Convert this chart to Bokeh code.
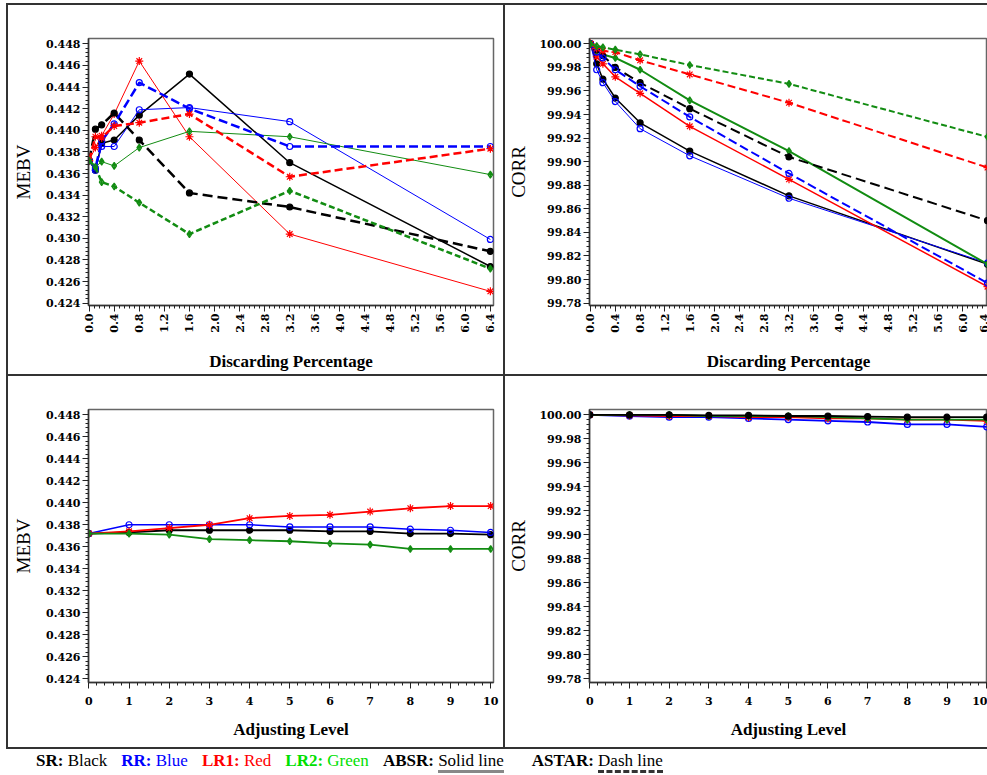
import math
from bokeh.plotting import figure
from bokeh.models import Range1d, FixedTicker, PrintfTickFormatter, Div, Spacer
from bokeh.layouts import row, column
from bokeh.embed import file_html
from bokeh.resources import INLINE

# ---------------- data ----------------
disc_pct = [0, 0.1, 0.2, 0.4, 0.8, 1.6, 3.2, 6.4]
adj_level = [0, 1, 2, 3, 4, 5, 6, 7, 8, 9, 10]

disc_ticks = [0.0, 0.4, 0.8, 1.2, 1.6, 2.0, 2.4, 2.8, 3.2, 3.6, 4.0, 4.4, 4.8, 5.2, 5.6, 6.0, 6.4]
adj_ticks = [0, 1, 2, 3, 4, 5, 6, 7, 8, 9, 10]
mebv_ticks = [0.424, 0.426, 0.428, 0.430, 0.432, 0.434, 0.436, 0.438, 0.440, 0.442, 0.444, 0.446, 0.448]
corr_ticks = [99.78, 99.80, 99.82, 99.84, 99.86, 99.88, 99.90, 99.92, 99.94, 99.96, 99.98, 100.00]

# MEBV vs Discarding Percentage
mebv_disc_sr_absr = [0.4372, 0.4363, 0.4388, 0.4391, 0.4414, 0.4452, 0.4370, 0.4274]
mebv_disc_sr_astar = [0.4372, 0.4401, 0.4405, 0.4416, 0.4391, 0.4342, 0.4329, 0.4288]
mebv_disc_rr_absr = [0.4372, 0.4363, 0.4385, 0.4385, 0.4419, 0.4421, 0.4408, 0.4299]
mebv_disc_rr_astar = [0.4372, 0.4365, 0.4390, 0.4406, 0.4444, 0.4420, 0.4385, 0.4385]
mebv_disc_lr1_absr = [0.4372, 0.4384, 0.4395, 0.4415, 0.4464, 0.4394, 0.4304, 0.4251]
mebv_disc_lr1_astar = [0.4372, 0.4394, 0.4393, 0.4404, 0.4407, 0.4415, 0.4357, 0.4383]
mebv_disc_lr2_absr = [0.4372, 0.4366, 0.4371, 0.4367, 0.4384, 0.4399, 0.4394, 0.4359]
mebv_disc_lr2_astar = [0.4372, 0.4366, 0.4352, 0.4348, 0.4333, 0.4304, 0.4344, 0.4272]

# CORR vs Discarding Percentage
corr_disc_sr_absr = [100.0, 99.983, 99.970, 99.954, 99.933, 99.909, 99.871, 99.813]
corr_disc_sr_astar = [100.0, 99.995, 99.990, 99.980, 99.967, 99.945, 99.904, 99.850]
corr_disc_rr_absr = [100.0, 99.978, 99.967, 99.951, 99.928, 99.905, 99.869, 99.814]
corr_disc_rr_astar = [100.0, 99.993, 99.988, 99.978, 99.964, 99.938, 99.890, 99.797]
corr_disc_lr1_absr = [100.0, 99.989, 99.983, 99.972, 99.958, 99.930, 99.885, 99.794]
corr_disc_lr1_astar = [100.0, 99.996, 99.994, 99.993, 99.986, 99.974, 99.950, 99.895]
corr_disc_lr2_absr = [100.0, 99.994, 99.991, 99.988, 99.978, 99.952, 99.909, 99.813]
corr_disc_lr2_astar = [100.0, 99.998, 99.997, 99.995, 99.991, 99.982, 99.966, 99.921]

# MEBV vs Adjusting Level
mebv_adj_sr = [0.4372, 0.4373, 0.4375, 0.4375, 0.4375, 0.4375, 0.4374, 0.4374, 0.4372, 0.4372, 0.4371]
mebv_adj_rr = [0.4372, 0.4380, 0.4380, 0.4380, 0.4380, 0.4378, 0.4378, 0.4378, 0.4376, 0.4375, 0.4373]
mebv_adj_lr1 = [0.4372, 0.4374, 0.4377, 0.4380, 0.4386, 0.4388, 0.4389, 0.4392, 0.4395, 0.4397, 0.4397]
mebv_adj_lr2 = [0.4372, 0.4372, 0.4371, 0.4367, 0.4366, 0.4365, 0.4363, 0.4362, 0.4358, 0.4358, 0.4358]

# CORR vs Adjusting Level
corr_adj_sr = [100.0, 100.0, 100.0, 99.9995, 99.9995, 99.999, 99.999, 99.9985, 99.998, 99.998, 99.998]
corr_adj_rr = [100.0, 99.999, 99.998, 99.998, 99.997, 99.996, 99.995, 99.994, 99.992, 99.992, 99.990]
corr_adj_lr1 = [100.0, 99.9995, 99.999, 99.999, 99.998, 99.998, 99.997, 99.997, 99.996, 99.996, 99.995]
corr_adj_lr2 = [100.0, 100.0, 100.0, 99.999, 99.999, 99.999, 99.998, 99.997, 99.996, 99.996, 99.996]

# ---------------- styles ----------------
BLACK = "#000000"
BLUE = "#0000ff"
RED = "#ff0000"
GREEN = "#128c12"

STYLE = {
    "SR": dict(color=BLACK, marker="circle", fill=BLACK, size=6),
    "RR": dict(color=BLUE, marker="circle", fill=None, size=6),
    "LR1": dict(color=RED, marker="asterisk", fill=None, size=8),
    "LR2": dict(color=GREEN, marker="diamond_cross", fill=None, size=7),
}
DASH = {"SR": "10 5", "RR": "9 4", "LR1": "8 4", "LR2": "6 3"}

TICK_FONT = "DejaVu Serif"
LABEL_FONT = "Liberation Serif"


def minor_between(ticks, n=5):
    out = []
    for a, b in zip(ticks[:-1], ticks[1:]):
        step = (b - a) / n
        for k in range(1, n):
            out.append(a + k * step)
    return out


def make_panel(w, h, xr, yr, xticks, yticks, xfmt, yfmt, xlabel, ylabel,
               mb, rotate, x_std, y_std, x_lab_std, y_lab_std):
    p = figure(width=w, height=h, output_backend="svg", toolbar_location=None,
               x_range=Range1d(*xr), y_range=Range1d(*yr),
               min_border_left=mb[0], min_border_right=mb[1],
               min_border_top=mb[2], min_border_bottom=mb[3])
    p.grid.visible = False
    p.outline_line_color = "#666666"
    p.outline_line_width = 1.5
    p.background_fill_color = "white"
    p.border_fill_color = "white"
    p.xaxis.ticker = FixedTicker(ticks=xticks, minor_ticks=minor_between(xticks))
    p.yaxis.ticker = FixedTicker(ticks=yticks, minor_ticks=minor_between(yticks))
    p.xaxis.formatter = PrintfTickFormatter(format=xfmt)
    p.yaxis.formatter = PrintfTickFormatter(format=yfmt)
    for ax in (p.xaxis[0], p.yaxis[0]):
        ax.axis_line_color = "#333333"
        ax.axis_line_width = 1.5
        ax.major_tick_line_color = "#222222"
        ax.minor_tick_line_color = "#222222"
        ax.major_tick_in = 0
        ax.major_tick_out = 6
        ax.minor_tick_in = 0
        ax.minor_tick_out = 3
        ax.major_label_text_font = TICK_FONT
        ax.major_label_text_font_style = "bold"
        ax.major_label_text_font_size = "11px"
        ax.major_label_text_color = "black"
        ax.axis_label_text_font = LABEL_FONT
        ax.axis_label_text_color = "black"
    p.xaxis.axis_label = xlabel
    p.yaxis.axis_label = ylabel
    p.xaxis.axis_label_text_font_style = "bold"
    p.xaxis.axis_label_text_font_size = "17px"
    p.yaxis.axis_label_text_font_style = "normal"
    p.yaxis.axis_label_text_font_size = "19px"
    p.xaxis.major_label_standoff = x_std
    p.yaxis.major_label_standoff = y_std
    p.xaxis.axis_label_standoff = x_lab_std
    p.yaxis.axis_label_standoff = y_lab_std
    if rotate:
        p.xaxis.major_label_orientation = math.pi / 2
    return p


def add_series(p, x, y, method, dash, lw):
    st = STYLE[method]
    p.line(x, y, line_color=st["color"], line_width=lw, line_dash=dash)
    p.scatter(x, y, marker=st["marker"], size=st["size"], line_color=st["color"],
              fill_color=st["fill"], line_width=1.2)


LW, RW = 495, 482
TH, BH = 369, 371

# top-left: MEBV vs Discarding Percentage
p1 = make_panel(LW, TH, (-0.01, 6.45), (0.42379, 0.44849), disc_ticks, mebv_ticks,
                "%.1f", "%.3f", "Discarding Percentage", "MEBV",
                (80, 10, 33, 69), True, 2, 2, 16, 9)
add_series(p1, disc_pct, mebv_disc_sr_absr, "SR", "solid", 1.5)
add_series(p1, disc_pct, mebv_disc_rr_absr, "RR", "solid", 1)
add_series(p1, disc_pct, mebv_disc_lr1_absr, "LR1", "solid", 1)
add_series(p1, disc_pct, mebv_disc_lr2_absr, "LR2", "solid", 1)
add_series(p1, disc_pct, mebv_disc_sr_astar, "SR", DASH["SR"], 2.5)
add_series(p1, disc_pct, mebv_disc_rr_astar, "RR", DASH["RR"], 2.5)
add_series(p1, disc_pct, mebv_disc_lr1_astar, "LR1", DASH["LR1"], 2.5)
add_series(p1, disc_pct, mebv_disc_lr2_astar, "LR2", DASH["LR2"], 2.5)

# top-right: CORR vs Discarding Percentage
p2 = make_panel(RW, TH, (-0.016, 6.40), (99.778, 100.0045), disc_ticks, corr_ticks,
                "%.1f", "%.2f", "Discarding Percentage", "CORR",
                (84, 0, 33, 69), True, 2, 2, 16, 7)
add_series(p2, disc_pct, corr_disc_sr_absr, "SR", "solid", 1.5)
add_series(p2, disc_pct, corr_disc_rr_absr, "RR", "solid", 1)
add_series(p2, disc_pct, corr_disc_lr1_absr, "LR1", "solid", 1.5)
add_series(p2, disc_pct, corr_disc_lr2_absr, "LR2", "solid", 2)
add_series(p2, disc_pct, corr_disc_sr_astar, "SR", DASH["SR"], 2)
add_series(p2, disc_pct, corr_disc_rr_astar, "RR", DASH["RR"], 2)
add_series(p2, disc_pct, corr_disc_lr1_astar, "LR1", DASH["LR1"], 2)
add_series(p2, disc_pct, corr_disc_lr2_astar, "LR2", DASH["LR2"], 2)

# bottom-left: MEBV vs Adjusting Level
p3 = make_panel(LW, BH, (-0.01, 10.07), (0.42366, 0.44848), adj_ticks, mebv_ticks,
                "%d", "%.3f", "Adjusting Level", "MEBV",
                (80, 10, 33, 65), False, 8, 2, 12, 9)
add_series(p3, adj_level, mebv_adj_sr, "SR", "solid", 1.8)
add_series(p3, adj_level, mebv_adj_rr, "RR", "solid", 1.5)
add_series(p3, adj_level, mebv_adj_lr1, "LR1", "solid", 1.8)
add_series(p3, adj_level, mebv_adj_lr2, "LR2", "solid", 1.8)

# bottom-right: CORR vs Adjusting Level
p4 = make_panel(RW, BH, (-0.008, 10.02), (99.7769, 100.0044), adj_ticks, corr_ticks,
                "%d", "%.2f", "Adjusting Level", "CORR",
                (84, 0, 33, 65), False, 8, 2, 12, 7)
add_series(p4, adj_level, corr_adj_rr, "RR", "solid", 1.8)
add_series(p4, adj_level, corr_adj_lr1, "LR1", "solid", 1.8)
add_series(p4, adj_level, corr_adj_lr2, "LR2", "solid", 1.8)
add_series(p4, adj_level, corr_adj_sr, "SR", "solid", 1.8)

# ---------------- frame lines & legend ----------------
LINE = "#333333"
TOTAL_W = 2 + LW + 2 + RW


def hline(w):
    return Spacer(width=w, height=2, styles={"background-color": LINE})


def vline(h):
    return Spacer(width=2, height=h, styles={"background-color": LINE})


def blank(w, h):
    return Spacer(width=w, height=h)


GAP = '<span style="display:inline-block;width:14px"></span>'
legend_html = (
    '<div style="font-family:\'Liberation Serif\';font-size:17px;line-height:18px;'
    'white-space:nowrap;padding-left:30px;padding-top:3px;">'
    '<b>SR:</b> <span style="color:#000">Black</span>' + GAP +
    '<b style="color:#0000ff">RR:</b> <span style="color:#0000ff">Blue</span>' + GAP +
    '<b style="color:#ff0000">LR1:</b> <span style="color:#ff0000">Red</span>' + GAP +
    '<b style="color:#00e000">LR2:</b> <span style="color:#00e000">Green</span>' + GAP +
    '<b>ABSR:</b> <span style="border-bottom:3px solid #888">Solid line</span>' + GAP + GAP +
    '<b>ASTAR:</b> <span style="border-bottom:3px dashed #333">Dash line</span>'
    '</div>'
)
legend = Div(text=legend_html, width=TOTAL_W, height=24,
             styles={"margin": "0", "padding": "0"})

grid = column(
    hline(TOTAL_W),
    row(vline(TH), p1, vline(TH), p2, spacing=0),
    hline(TOTAL_W),
    row(vline(BH), p3, vline(BH), p4, spacing=0),
    hline(TOTAL_W),
    legend,
    spacing=0,
)

layout = column(
    blank(TOTAL_W + 6, 3),
    row(blank(6, 10), grid, spacing=0),
    spacing=0,
)

open("out.html", "w").write(file_html(layout, INLINE))
